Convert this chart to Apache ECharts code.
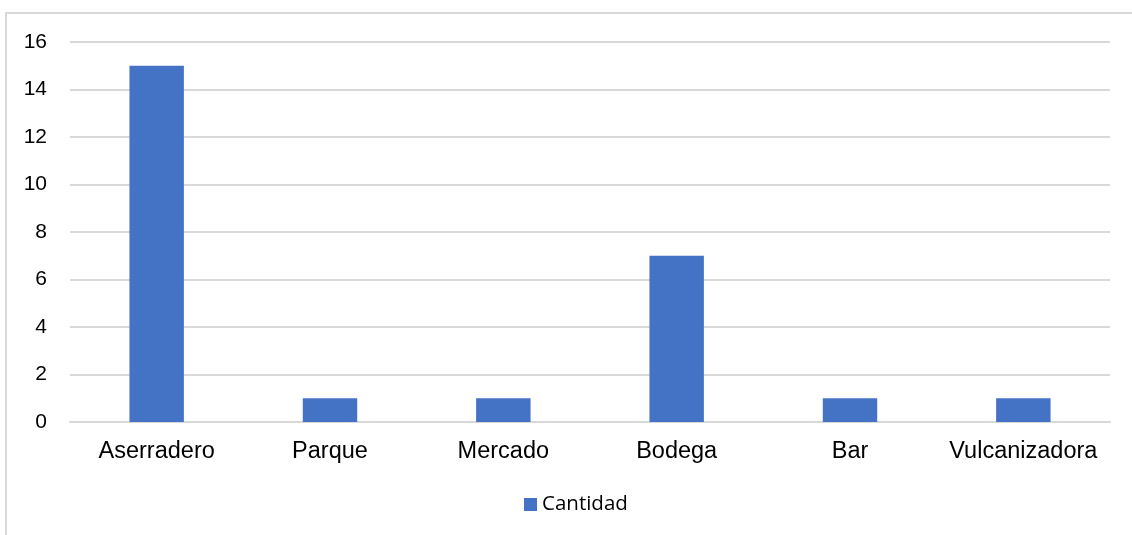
<!DOCTYPE html>
<html>
<head>
<meta charset="utf-8">
<script src="https://cdn.jsdelivr.net/npm/echarts@6/dist/echarts.min.js"></script>
<style>
  html, body { margin: 0; padding: 0; background: #fff; }
  #chart { width: 1132px; height: 535px; }
</style>
</head>
<body>
<div id="chart"></div>
<script>
// Establecimientos por tipo
const categories = ['Aserradero', 'Parque', 'Mercado', 'Bodega', 'Bar', 'Vulcanizadora'];
const cantidad = [15, 1, 1, 7, 1, 1];
const seriesName = 'Cantidad';

const axisFont = "'Liberation Sans', Arial, sans-serif";

const chart = echarts.init(document.getElementById('chart'), null, { renderer: 'canvas' });

chart.setOption({
  animation: false,
  backgroundColor: '#ffffff',
  graphic: [{
    type: 'rect',
    shape: { x: 6, y: 13, width: 1300, height: 700 },
    style: { fill: 'none', stroke: '#d9d9d9', lineWidth: 2 },
    silent: true,
    z: -1
  }],
  grid: { left: 70, right: 22, top: 42, bottom: 113, containLabel: false },
  legend: {
    bottom: 15,
    left: 519,
    itemWidth: 13,
    itemHeight: 13,
    itemGap: 10,
    icon: 'rect',
    textStyle: { fontFamily: "'Open Sans', 'Noto Sans', sans-serif", fontSize: 20.5, color: '#000' },
    data: [seriesName]
  },
  xAxis: {
    type: 'category',
    data: categories,
    axisLine: { show: true, lineStyle: { color: '#d9d9d9', width: 2 } },
    axisTick: { show: false },
    axisLabel: { color: '#000', fontFamily: axisFont, fontSize: 23.5, margin: 18, interval: 0 }
  },
  yAxis: {
    type: 'value',
    min: 0,
    max: 16,
    interval: 2,
    axisLine: { show: false },
    axisTick: { show: false },
    axisLabel: { color: '#000', fontFamily: axisFont, fontSize: 21, margin: 23 },
    splitLine: { lineStyle: { color: '#d9d9d9', width: 2 } }
  },
  series: [{
    name: seriesName,
    type: 'bar',
    data: cantidad,
    barWidth: '31.4%',
    itemStyle: { color: '#4472c4' }
  }]
});
</script>
</body>
</html>
